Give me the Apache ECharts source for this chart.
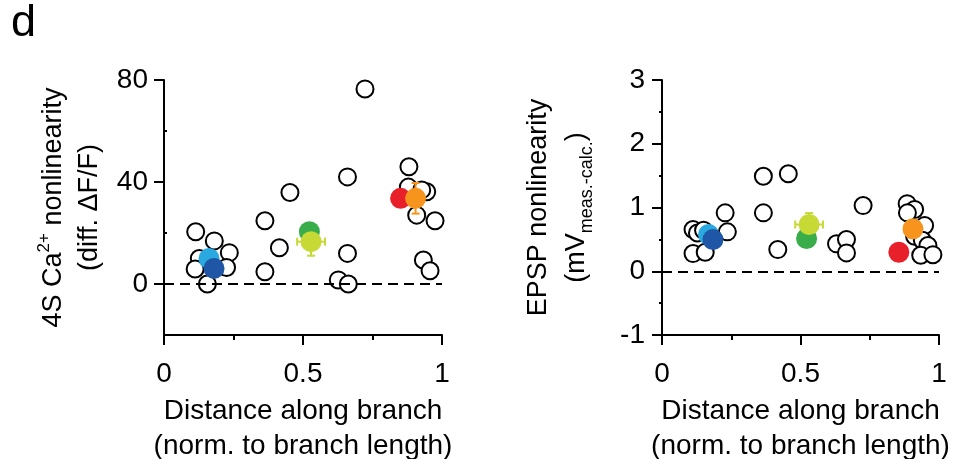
<!DOCTYPE html>
<html>
<head>
<meta charset="utf-8">
<script src="https://cdn.jsdelivr.net/npm/echarts@6/dist/echarts.min.js"></script>
<style>
  html, body { margin: 0; padding: 0; background: #fff; }
  #main { width: 963px; height: 459px; }
</style>
</head>
<body>
<div id="main"></div>
<script>
// open circles, 4S Ca2+ nonlinearity (diff. dF/F)
var caOpenX = [0.114, 0.181, 0.127, 0.235, 0.112, 0.225, 0.156, 0.363, 0.453, 0.415, 0.363,
    0.723, 0.660, 0.660, 0.627, 0.663, 0.881, 0.879, 0.945, 0.927, 0.909, 0.975, 0.933, 0.957];
var caOpenY = [20.5, 16.9, 10.0, 12.3, 5.9, 6.5, 0.0, 24.8, 35.9, 14.2, 4.8,
    76.5, 42.0, 12.0, 1.6, 0.0, 46.0, 38.0, 36.2, 36.9, 27.0, 24.8, 9.4, 5.2];

// open circles, EPSP nonlinearity (mV)
var epspOpenX = [0.112, 0.128, 0.150, 0.112, 0.156, 0.228, 0.236, 0.366, 0.456, 0.366, 0.418,
    0.630, 0.666, 0.666, 0.726, 0.885, 0.912, 0.886, 0.948, 0.912, 0.940, 0.960, 0.934, 0.978];
var epspOpenY = [0.654, 0.600, 0.644, 0.277, 0.298, 0.916, 0.618, 1.49, 1.53, 0.916, 0.340,
    0.430, 0.497, 0.288, 1.03, 1.06, 0.97, 0.916, 0.717, 0.550, 0.487, 0.403, 0.250, 0.260];

// coloured group means (light blue, dark blue, green, yellow-green, red, orange)
var caMeanX = [0.162, 0.180, 0.523, 0.529, 0.851, 0.905];
var caMeanY = [10.0, 6.1, 20.5, 16.6, 33.6, 33.6];
var caErrX = [0, 0, 0, 0.05, 0, 0];
var caErrY = [0, 0, 0, 5.5, 0, 6.0];

var epspMeanX = [0.168, 0.184, 0.522, 0.531, 0.855, 0.906];
var epspMeanY = [0.576, 0.497, 0.513, 0.733, 0.298, 0.665];
var epspErrX = [0, 0, 0, 0.05, 0, 0];
var epspErrY = [0, 0, 0, 0.18, 0, 0];

var groupColors = ['#2aa9e0', '#1f57a6', '#39ad4a', '#c6d935', '#e8202a', '#f7941d'];

var FONT = "'Liberation Sans', Arial, sans-serif";

var chartDom = document.getElementById('main');
var myChart = echarts.init(chartDom, null, { renderer: 'canvas' });

var zip = function (xs, ys) {
    return xs.map(function (x, i) { return [x, ys[i]]; });
};

var meanData = function (xs, ys) {
    return xs.map(function (x, i) {
        return { value: [x, ys[i]], itemStyle: { color: groupColors[i], opacity: 1 } };
    });
};

var errData = function (xs, ys, exs, eys) {
    var out = [];
    xs.forEach(function (x, i) {
        if (exs[i] > 0 || eys[i] > 0) {
            out.push([x, ys[i], exs[i], eys[i], i]);
        }
    });
    return out;
};

var renderErrorBar = function (params, api) {
    var x = api.value(0), y = api.value(1), ex = api.value(2), ey = api.value(3);
    var color = groupColors[api.value(4)];
    var cap = 4;
    var style = { stroke: color, lineWidth: 2 };
    var children = [];
    if (ey > 0) {
        var p1 = api.coord([x, y + ey]);
        var p2 = api.coord([x, y - ey]);
        children.push({ type: 'line', shape: { x1: p1[0], y1: p1[1], x2: p2[0], y2: p2[1] }, style: style });
        children.push({ type: 'line', shape: { x1: p1[0] - cap, y1: p1[1], x2: p1[0] + cap, y2: p1[1] }, style: style });
        children.push({ type: 'line', shape: { x1: p2[0] - cap, y1: p2[1], x2: p2[0] + cap, y2: p2[1] }, style: style });
    }
    if (ex > 0) {
        var q1 = api.coord([x - ex, y]);
        var q2 = api.coord([x + ex, y]);
        children.push({ type: 'line', shape: { x1: q1[0], y1: q1[1], x2: q2[0], y2: q2[1] }, style: style });
        children.push({ type: 'line', shape: { x1: q1[0], y1: q1[1] - cap, x2: q1[0], y2: q1[1] + cap }, style: style });
        children.push({ type: 'line', shape: { x1: q2[0], y1: q2[1] - cap, x2: q2[0], y2: q2[1] + cap }, style: style });
    }
    return { type: 'group', children: children };
};

var axisLine = { show: true, onZero: false, lineStyle: { color: '#000', width: 2 } };
var labelStyle = { color: '#000', fontSize: 28, fontFamily: FONT };

var xAxisFor = function (gridIndex) {
    return {
        type: 'value',
        gridIndex: gridIndex,
        min: 0,
        max: 1,
        interval: 0.5,
        axisLine: axisLine,
        axisTick: { show: true, length: 10, lineStyle: { color: '#000', width: 2 } },
        minorTick: { show: true, splitNumber: 2, length: 5, lineStyle: { color: '#000', width: 2 } },
        splitLine: { show: false },
        axisLabel: Object.assign({ margin: 25, formatter: function (v) { return String(v); } }, labelStyle),
        name: 'Distance along branch\n(norm. to branch length)',
        nameLocation: 'middle',
        nameGap: 59,
        nameTextStyle: { color: '#000', fontSize: 28, lineHeight: 35, fontFamily: FONT }
    };
};

var zeroLine = function (xi, yi) {
    return {
        type: 'line',
        xAxisIndex: xi,
        yAxisIndex: yi,
        data: [],
        z: 1,
        markLine: {
            silent: true,
            symbol: 'none',
            label: { show: false },
            lineStyle: { color: '#000', width: 2, type: [10, 6] },
            data: [[{ coord: [0, 0] }, { coord: [1, 0] }]]
        }
    };
};

var openSeries = function (xi, yi, data) {
    return {
        type: 'scatter',
        xAxisIndex: xi,
        yAxisIndex: yi,
        z: 2,
        symbolSize: 17,
        itemStyle: { color: '#fff', borderColor: '#000', borderWidth: 2, opacity: 1 },
        data: data
    };
};

var option = {
    animation: false,
    backgroundColor: '#fff',
    textStyle: { fontFamily: FONT },
    graphic: [
        { type: 'text', left: 11, top: 1, style: { text: 'd', fontSize: 45, fill: '#000', fontFamily: FONT } }
    ],
    grid: [
        { left: 164, top: 80, width: 278, height: 255, outerBoundsMode: 'none', containLabel: false },
        { left: 662, top: 80, width: 277, height: 255, outerBoundsMode: 'none', containLabel: false }
    ],
    xAxis: [xAxisFor(0), xAxisFor(1)],
    yAxis: [
        {
            type: 'value',
            gridIndex: 0,
            position: 'left',
            min: -20,
            max: 80,
            interval: 20,
            axisLine: axisLine,
            axisTick: { show: true, length: 10, customValues: [0, 40, 80], lineStyle: { color: '#000', width: 2 } },
            splitLine: { show: false },
            axisLabel: Object.assign({ margin: 16, customValues: [0, 40, 80] }, labelStyle),
            name: '4S Ca{sup|2+} nonlinearity\n(diff. ΔF/F)',
            nameLocation: 'middle',
            nameRotate: 90,
            nameGap: 56,
            nameTextStyle: {
                color: '#000', fontSize: 27, lineHeight: 36, fontFamily: FONT,
                rich: {
                    sup: { fontSize: 17, lineHeight: 24, verticalAlign: 'top', fontFamily: FONT, color: '#000' }
                }
            }
        },
        {
            // minor ticks only
            type: 'value',
            gridIndex: 0,
            position: 'left',
            offset: 0,
            min: -20,
            max: 80,
            interval: 20,
            axisLine: { show: false, onZero: false },
            axisTick: { show: true, inside: true, length: 3, customValues: [20, 60], lineStyle: { color: '#000', width: 2 } },
            axisLabel: { show: false },
            splitLine: { show: false }
        },
        {
            type: 'value',
            gridIndex: 1,
            position: 'left',
            min: -1,
            max: 3,
            interval: 1,
            axisLine: axisLine,
            axisTick: { show: true, length: 10, lineStyle: { color: '#000', width: 2 } },
            minorTick: { show: true, splitNumber: 2, length: 3, lineStyle: { color: '#000', width: 2 } },
            splitLine: { show: false },
            axisLabel: Object.assign({ margin: 17 }, labelStyle),
            name: 'EPSP nonlinearity\n(mV{sub|meas.-calc.})',
            nameLocation: 'middle',
            nameRotate: 90,
            nameGap: 66,
            nameTextStyle: {
                color: '#000', fontSize: 27, lineHeight: 38, fontFamily: FONT,
                rich: {
                    sub: { fontSize: 18, lineHeight: 22, verticalAlign: 'bottom', fontFamily: FONT, color: '#000' }
                }
            }
        }
    ],
    series: [
        zeroLine(0, 0),
        openSeries(0, 0, zip(caOpenX, caOpenY)),
        {
            type: 'custom',
            xAxisIndex: 0,
            yAxisIndex: 0,
            z: 3,
            renderItem: renderErrorBar,
            data: errData(caMeanX, caMeanY, caErrX, caErrY)
        },
        {
            type: 'scatter',
            xAxisIndex: 0,
            yAxisIndex: 0,
            z: 4,
            symbolSize: 21,
            data: meanData(caMeanX, caMeanY)
        },
        zeroLine(1, 2),
        openSeries(1, 2, zip(epspOpenX, epspOpenY)),
        {
            type: 'custom',
            xAxisIndex: 1,
            yAxisIndex: 2,
            z: 3,
            renderItem: renderErrorBar,
            data: errData(epspMeanX, epspMeanY, epspErrX, epspErrY)
        },
        {
            type: 'scatter',
            xAxisIndex: 1,
            yAxisIndex: 2,
            z: 4,
            symbolSize: 21,
            data: meanData(epspMeanX, epspMeanY)
        }
    ]
};

myChart.setOption(option);
</script>
</body>
</html>
